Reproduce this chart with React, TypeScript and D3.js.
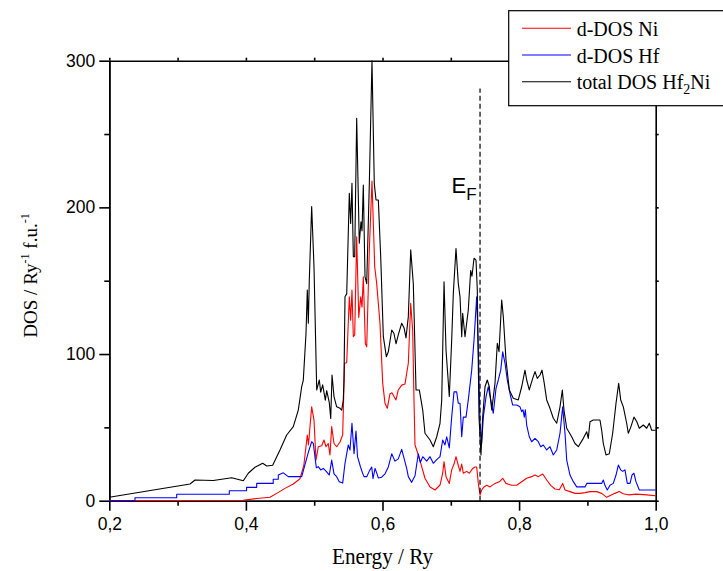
import { useEffect, useRef } from "react";
import * as d3 from "d3";

// energy axis (Ry) and DOS axis ticks
const xTicks = [0.2, 0.4, 0.6, 0.8, 1.0];
const xMinorTicks = [0.3, 0.5, 0.7, 0.9];
const yTicks = [0, 100, 200, 300];
const yMinorTicks = [50, 150, 250];

const fermiEnergy = 0.7428;
const fermiTop = 281;

// [energy, DOS]
const niDos = [
  [0.2, 0], [0.3958, 0.3], [0.4158, 1.5], [0.4353, 2.3], [0.4451, 5], [0.4572, 8.4],
  [0.4694, 11.4], [0.4792, 15], [0.4848, 24], [0.4899, 44.8], [0.4916, 38], [0.4963, 64],
  [0.4997, 55], [0.5026, 27.7], [0.506, 36.8], [0.511, 37.5], [0.5143, 41.4], [0.5173, 36.8],
  [0.5206, 39], [0.5231, 31.2], [0.5256, 50.5], [0.529, 39], [0.5329, 36.8], [0.5378, 40],
  [0.5417, 45], [0.5444, 93.7], [0.5476, 94], [0.5514, 139], [0.5534, 123], [0.5553, 143.6],
  [0.5573, 111.8], [0.5593, 113], [0.5622, 180], [0.5652, 125], [0.5681, 139], [0.57, 132],
  [0.5719, 152.7], [0.5749, 107], [0.5769, 105], [0.5807, 171], [0.5846, 218], [0.5886, 159.5],
  [0.5915, 148], [0.5963, 121], [0.6003, 80], [0.6037, 66.4], [0.607, 63], [0.611, 73],
  [0.6139, 73.6], [0.6168, 71], [0.6198, 68.7], [0.6231, 75.5], [0.6281, 78.8], [0.6329, 79.5],
  [0.6378, 93.7], [0.6413, 134.6], [0.6442, 116], [0.6461, 68.7], [0.6476, 38], [0.6524, 31.2],
  [0.6574, 23.2], [0.6622, 15.3], [0.6696, 9.4], [0.6769, 7.3], [0.6842, 10.7], [0.6881, 18.7],
  [0.6901, 26.6], [0.693, 16.4], [0.6978, 11.8], [0.7013, 21], [0.7047, 25], [0.7076, 30],
  [0.711, 24], [0.7135, 20], [0.716, 25], [0.7183, 18.7], [0.7233, 20], [0.7271, 18.7],
  [0.7321, 22], [0.7354, 23], [0.7379, 23], [0.7403, 11.8], [0.7428, 3.9], [0.7452, 7.3],
  [0.7486, 9.4], [0.7526, 10.5], [0.7574, 9.4], [0.7647, 11.8], [0.771, 12.9], [0.776, 15.3],
  [0.7808, 11.8], [0.7892, 10.5], [0.7965, 10.5], [0.8038, 12.9], [0.8111, 15.3], [0.8184, 16.4],
  [0.8233, 17.5], [0.8281, 16.4], [0.8346, 18.2], [0.8404, 14.1], [0.8463, 10.5], [0.8526, 8],
  [0.8589, 7.5], [0.8638, 11.8], [0.8672, 7.3], [0.8745, 6.2], [0.8818, 5], [0.8892, 5],
  [0.8965, 5.5], [0.9038, 6.2], [0.9136, 6.2], [0.9209, 5], [0.9283, 2.3], [0.9356, 4],
  [0.9404, 5], [0.9467, 6.2], [0.9526, 4.7], [0.9599, 4], [0.9722, 4.5], [0.9868, 4], [1.0, 3.4],
];

const hfDos = [
  [0.2, 0], [0.2376, 0], [0.2376, 2], [0.2987, 2], [0.2987, 4.4], [0.3757, 4.4], [0.3757, 6.8],
  [0.401, 6.8], [0.401, 9.1], [0.4158, 9.1], [0.4158, 11.8], [0.44, 11.8], [0.44, 14.6],
  [0.4474, 14.6], [0.4474, 17.5], [0.4548, 19], [0.462, 16.4], [0.4817, 16.4], [0.489, 28.9],
  [0.4914, 33], [0.4963, 40.2], [0.4987, 39.1], [0.5031, 22.5], [0.506, 23.2], [0.5095, 21],
  [0.5133, 22], [0.5183, 19.6], [0.5221, 17.5], [0.5256, 27.7], [0.529, 18.3], [0.5329, 16.4],
  [0.5367, 13], [0.5417, 12], [0.5451, 25.5], [0.5499, 38], [0.5524, 34.6], [0.5553, 52.8],
  [0.5583, 32], [0.5612, 47.5], [0.5634, 30], [0.5675, 23.5], [0.5707, 19], [0.5729, 16.4],
  [0.5769, 16.4], [0.581, 20.5], [0.5842, 23], [0.5861, 15], [0.5891, 22], [0.5915, 19],
  [0.5939, 15.5], [0.5988, 16], [0.6037, 18.3], [0.6085, 23], [0.6135, 32], [0.6183, 27],
  [0.6231, 28.5], [0.6281, 35], [0.6315, 29], [0.6354, 22], [0.6378, 16.4], [0.6427, 12.5],
  [0.6476, 17], [0.6524, 32], [0.6554, 26], [0.6589, 30], [0.6647, 27], [0.6696, 30],
  [0.6744, 25.5], [0.6794, 28], [0.6842, 30], [0.6881, 41.4], [0.6915, 38], [0.694, 43.6],
  [0.6978, 36], [0.7013, 57], [0.7047, 74.2], [0.7086, 74.2], [0.711, 66.4], [0.7135, 66.4],
  [0.716, 43.6], [0.7183, 57], [0.7223, 57], [0.7256, 68.7], [0.7306, 89], [0.734, 109.6],
  [0.7379, 139], [0.7403, 102.7], [0.7428, 52.8], [0.7452, 39.1], [0.7476, 57], [0.7516, 71],
  [0.7549, 77.7], [0.7584, 68.7], [0.7622, 59.6], [0.7662, 76.6], [0.7696, 82.3], [0.7731, 89],
  [0.776, 101.5], [0.7794, 93.7], [0.7827, 82.3], [0.7867, 73], [0.7906, 65.2], [0.7965, 65.2],
  [0.8013, 64], [0.8038, 60.7], [0.8057, 62], [0.8076, 57], [0.8091, 62], [0.8111, 51.6],
  [0.8149, 43.6], [0.8184, 40.2], [0.8233, 42.5], [0.8281, 40.2], [0.8316, 36.8], [0.8354, 38],
  [0.8404, 34.6], [0.8452, 36.8], [0.8501, 31.2], [0.8551, 34.6], [0.8599, 46], [0.8638, 64],
  [0.8672, 46], [0.8697, 27.7], [0.8745, 17.5], [0.8794, 13], [0.8843, 9.4], [0.8965, 9.4],
  [0.899, 11.8], [0.9209, 11.8], [0.9233, 14.1], [0.9257, 10.5], [0.9291, 7.3], [0.9331, 10.5],
  [0.9379, 11.8], [0.9419, 17.5], [0.9453, 24.3], [0.9488, 21], [0.9517, 20], [0.955, 21],
  [0.9584, 11.8], [0.9624, 11.8], [0.9653, 17.5], [0.9682, 18.7], [0.9711, 13], [0.976, 7.3],
  [1.0, 7.3],
];

const totalDos = [
  [0.2, 2.3], [0.3182, 11.4], [0.3255, 14.1], [0.3523, 13.8], [0.3792, 15.7], [0.3962, 13.6],
  [0.4035, 18.7], [0.4133, 22.8], [0.4246, 25.5], [0.4305, 23.7], [0.4392, 24.2], [0.4499, 34.6],
  [0.4597, 44.8], [0.4694, 50.5], [0.4767, 61.8], [0.4817, 77.7], [0.484, 82], [0.488, 114],
  [0.4899, 143.6], [0.4914, 121], [0.4928, 150], [0.4963, 200.5], [0.4997, 159.5], [0.5037, 75.5],
  [0.5075, 82.3], [0.5095, 74], [0.5124, 79], [0.5163, 68.6], [0.5183, 75], [0.5221, 66.8],
  [0.5242, 56], [0.5261, 85.7], [0.529, 71], [0.5329, 64], [0.5378, 63], [0.5403, 61.7],
  [0.5426, 68.7], [0.5436, 82], [0.5451, 139], [0.5476, 141], [0.5514, 209.6], [0.5534, 189],
  [0.5553, 216.4], [0.5573, 166.4], [0.5593, 166.4], [0.5622, 260.7], [0.566, 175.5],
  [0.5685, 190.2], [0.57, 184], [0.5719, 215.2], [0.5744, 152.7], [0.5769, 148], [0.5807, 216],
  [0.5846, 300], [0.588, 216], [0.5905, 205], [0.5939, 205], [0.5974, 166], [0.6012, 112],
  [0.6056, 98.2], [0.6085, 101.5], [0.6135, 116.4], [0.6168, 114], [0.6198, 107], [0.6231, 113],
  [0.6281, 121], [0.6315, 118], [0.6344, 111], [0.6378, 125.5], [0.6413, 171], [0.6451, 148],
  [0.6491, 75.5], [0.6539, 75.5], [0.6589, 61.8], [0.6622, 46], [0.6696, 41.4], [0.6744, 36.8],
  [0.6794, 43.6], [0.6842, 52.8], [0.6867, 68.7], [0.6901, 149.3], [0.693, 102.7], [0.6978, 71],
  [0.7013, 109.6], [0.7037, 141.4], [0.7076, 172], [0.711, 148], [0.7135, 139], [0.716, 111.8],
  [0.7174, 127.8], [0.7208, 111.8], [0.7256, 130], [0.7291, 157], [0.731, 153], [0.734, 165.3],
  [0.7369, 164], [0.7388, 143.6], [0.7413, 57], [0.7442, 31.2], [0.7467, 57], [0.7501, 77.7],
  [0.7534, 82.3], [0.7564, 77.7], [0.7599, 61.8], [0.7647, 80], [0.7681, 107.3], [0.7706, 101.6],
  [0.7745, 136.8], [0.7769, 125.3], [0.7808, 96], [0.7857, 75.5], [0.7915, 69.8], [0.7988, 68.7],
  [0.8038, 77.7], [0.8086, 89], [0.8111, 82.3], [0.8149, 75.5], [0.8199, 83.4], [0.8233, 88],
  [0.8266, 83.4], [0.8306, 85.7], [0.8335, 89], [0.8365, 81], [0.8404, 68.7], [0.8452, 63],
  [0.8501, 56.2], [0.8551, 52.8], [0.8599, 64], [0.8633, 75.5], [0.8657, 61.8], [0.8697, 49.4],
  [0.877, 43.6], [0.8818, 39], [0.8867, 36.8], [0.894, 42.5], [0.899, 47], [0.9013, 42.5],
  [0.9038, 53.9], [0.9086, 55], [0.9184, 55], [0.9209, 48], [0.9233, 39], [0.9272, 31.2],
  [0.9321, 32], [0.937, 46], [0.9419, 66.4], [0.9458, 80], [0.9488, 68.7], [0.9526, 64],
  [0.9575, 52.8], [0.9599, 46], [0.9634, 50], [0.9682, 57], [0.9722, 54], [0.976, 49.4],
  [0.9819, 51.6], [0.9868, 49.4], [0.9906, 52.8], [0.9941, 48], [1.0, 48],
];

const series = [
  { label: "d-DOS Ni", color: "#ff0000", data: niDos },
  { label: "d-DOS Hf", color: "#0000ff", data: hfDos },
  { label: "total DOS Hf", sub: "2", tail: "Ni", color: "#000000", data: totalDos },
];

const W = 723;
const H = 571;
const margin = { top: 60.7, right: 67.3, bottom: 70.3, left: 109.3 };
const sans = "'Liberation Sans', Arial, sans-serif";
const serif = "'Liberation Serif', 'Times New Roman', serif";

const App = () => {
  const svgRef = useRef<SVGSVGElement>(null);

  useEffect(() => {
    if (!svgRef.current) return;
    const svg = d3.select(svgRef.current);
    svg.selectAll("*").remove();

    const x = d3.scaleLinear().domain([0.2, 1.0]).range([margin.left, W - margin.right]);
    const y = d3.scaleLinear().domain([0, 300]).range([H - margin.bottom, margin.top]);

    const styleAxis = (g: any) => {
      g.selectAll(".domain").attr("stroke", "#000").attr("stroke-width", 1.6);
      g.selectAll(".tick line").attr("stroke", "#000").attr("stroke-width", 1.6);
      g.selectAll(".tick text")
        .attr("fill", "#000")
        .style("font-family", sans)
        .style("font-size", "17.5px");
    };

    // frame: top and right with small ticks
    svg.append("g")
      .attr("transform", `translate(0,${y(300)})`)
      .call(d3.axisTop(x).tickValues([...xTicks, ...xMinorTicks]).tickSize(3).tickSizeOuter(0).tickFormat(() => ""))
      .call(styleAxis);
    svg.append("g")
      .attr("transform", `translate(${x(1.0)},0)`)
      .call(d3.axisRight(y).tickValues([...yTicks, ...yMinorTicks]).tickSize(3).tickSizeOuter(0).tickFormat(() => ""))
      .call(styleAxis);

    // minor ticks
    svg.append("g")
      .attr("transform", `translate(0,${y(0)})`)
      .call(d3.axisBottom(x).tickValues(xMinorTicks).tickSize(5).tickSizeOuter(0).tickFormat(() => ""))
      .call(styleAxis);
    svg.append("g")
      .attr("transform", `translate(${x(0.2)},0)`)
      .call(d3.axisLeft(y).tickValues(yMinorTicks).tickSize(5).tickSizeOuter(0).tickFormat(() => ""))
      .call(styleAxis);

    // major ticks with labels
    svg.append("g")
      .attr("transform", `translate(0,${y(0)})`)
      .call(
        d3.axisBottom(x)
          .tickValues(xTicks)
          .tickSize(10)
          .tickSizeOuter(0)
          .tickPadding(7)
          .tickFormat((d: any) => d.toFixed(1).replace(".", ","))
      )
      .call(styleAxis);
    svg.append("g")
      .attr("transform", `translate(${x(0.2)},0)`)
      .call(d3.axisLeft(y).tickValues(yTicks).tickSize(10).tickSizeOuter(0).tickPadding(4).tickFormat(d3.format("d")))
      .call(styleAxis);

    // curves
    const line = d3.line<number[]>().x((d) => x(d[0])).y((d) => y(d[1]));
    series.forEach((s) => {
      svg.append("path")
        .datum(s.data)
        .attr("d", line)
        .attr("fill", "none")
        .attr("stroke", s.color)
        .attr("stroke-width", 1.1)
        .attr("stroke-linejoin", "round");
    });

    // Fermi level
    svg.append("line")
      .attr("x1", x(fermiEnergy))
      .attr("x2", x(fermiEnergy))
      .attr("y1", y(0))
      .attr("y2", y(fermiTop))
      .attr("stroke", "#000")
      .attr("stroke-width", 1.2)
      .attr("stroke-dasharray", "5,3");

    const ef = svg.append("text")
      .attr("x", x(fermiEnergy) - 28.5)
      .attr("y", y(210))
      .style("font-family", sans)
      .style("font-size", "22px")
      .attr("fill", "#000");
    ef.append("tspan").text("E");
    ef.append("tspan").attr("dy", 7).style("font-size", "17px").text("F");

    // axis titles
    svg.append("text")
      .attr("x", (x(0.2) + x(1.0)) / 2)
      .attr("y", 564)
      .attr("text-anchor", "middle")
      .attr("textLength", 101)
      .attr("lengthAdjust", "spacingAndGlyphs")
      .style("font-family", serif)
      .style("font-size", "23px")
      .text("Energy / Ry");

    const yt = svg.append("text")
      .attr("transform", `translate(37,${275.5}) rotate(-90)`)
      .attr("text-anchor", "middle")
      .style("font-family", serif)
      .style("font-size", "19px");
    yt.append("tspan").text("DOS / Ry");
    yt.append("tspan").attr("dy", -8).style("font-size", "12px").text("-1");
    yt.append("tspan").attr("dy", 8).text(" f.u.");
    yt.append("tspan").attr("dy", -8).style("font-size", "12px").text("-1");

    // legend
    const lg = svg.append("g");
    lg.append("rect")
      .attr("x", 508.7)
      .attr("y", 10.7)
      .attr("width", 240)
      .attr("height", 95)
      .attr("fill", "#fff")
      .attr("stroke", "#000")
      .attr("stroke-width", 1.2);
    series.forEach((s, i) => {
      const ry = 28.3 + i * 26.7;
      lg.append("line")
        .attr("x1", 522)
        .attr("x2", 571)
        .attr("y1", ry)
        .attr("y2", ry)
        .attr("stroke", s.color)
        .attr("stroke-width", 1.1);
      const t = lg.append("text")
        .attr("x", 576.7)
        .attr("y", ry + 7.7)
        .style("font-family", serif)
        .style("font-size", "20px")
        .attr("fill", "#000");
      t.append("tspan").text(s.label);
      if (s.sub) {
        t.append("tspan").attr("dy", 5).style("font-size", "14px").text(s.sub);
        t.append("tspan").attr("dy", -5).text(s.tail);
      }
    });
  }, []);

  return (
    <svg
      ref={svgRef}
      width={W}
      height={H}
      style={{ position: "absolute", left: 0, top: 0, background: "#fff" }}
    ></svg>
  );
};

export default App;
